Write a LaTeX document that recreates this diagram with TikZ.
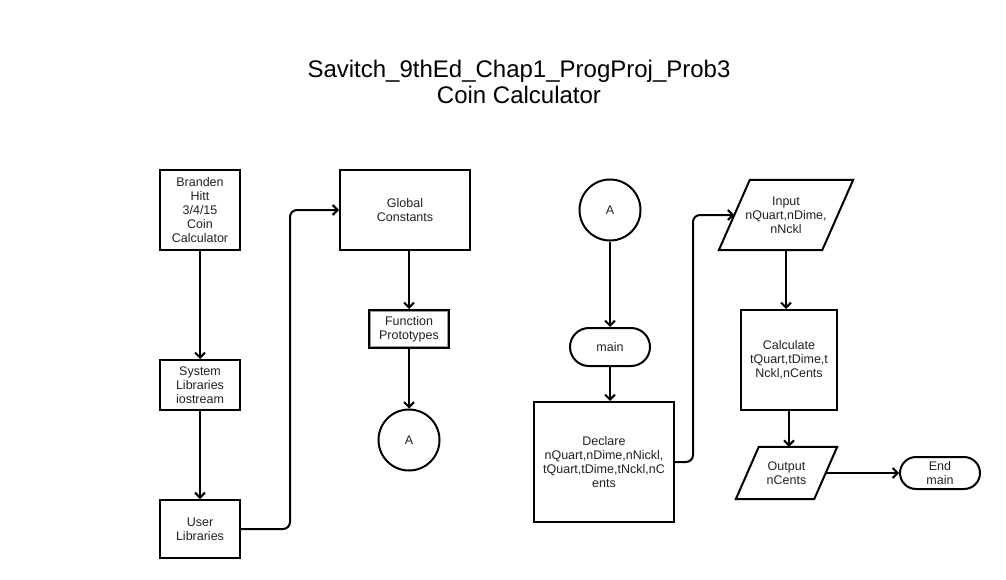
\documentclass[tikz,border=0pt]{standalone}
\usepackage{fontspec}
\setmainfont{Liberation Sans}
\usetikzlibrary{arrows.meta,calc}
\definecolor{txt}{HTML}{222222}
\begin{document}
\begin{tikzpicture}[x=1pt,y=-1pt,
  every node/.style={font=\fontsize{12.5}{14}\selectfont, align=center, inner sep=0pt, text=txt},
  box/.style={draw, line width=2pt, rectangle},
  term/.style={draw, line width=2pt, rectangle},
  conn/.style={draw, line width=2pt, circle},
  pbox/.style={rectangle},
  shapeline/.style={line width=2pt, line join=miter},
  link/.style={line width=2pt, -{Straight Barb[length=5pt,width=10pt,line width=2pt]}, rounded corners=7pt}
]
\useasboundingbox (0,0) rectangle (1006,580);
\fill[white] (0,0) rectangle (1006,580);

\node[font=\fontsize{24}{26}\selectfont, text=black] (title) at (519,82) {Savitch\_9thEd\_Chap1\_ProgProj\_Prob3\\Coin Calculator};

% left column
\node[box, minimum width=80pt, minimum height=80pt] (brand) at (200,210) {Branden\\Hitt\\3/4/15\\Coin\\Calculator};
\node[box, minimum width=80pt, minimum height=50pt] (sys) at (200,385) {System\\Libraries\\iostream};
\node[box, minimum width=80pt, minimum height=58pt] (user) at (200,529) {User\\Libraries};
\node[box, minimum width=130pt, minimum height=80pt] (glob) at (405,210) {Global\\Constants};
\node[box, minimum width=80pt, minimum height=38pt] (func) at (409,329) {Function\\Prototypes};
\draw[line width=1.2pt, black!40] ($(func.north west)+(2.2,2.2)$) rectangle ($(func.south east)+(-2.2,-2.2)$);
\node[conn, minimum size=61pt] (a1) at (409,440) {A};

\draw[link] (brand.south) -- (sys.north);
\draw[link] (sys.south) -- (user.north);
\draw[link] (user.east) -- (290,529) -- (290,210) -- (glob.west);
\draw[link] (func.north |- glob.south) -- (func.north);
\draw[link] (func.south) -- (a1.north);

% right column
\node[conn, minimum size=61pt] (a2) at (610,210) {A};
\node[term, minimum width=80pt, minimum height=38pt, rounded corners=19pt] (main) at (610,347) {main};
\node[box, minimum width=140pt, minimum height=120pt] (decl) at (604,462) {Declare\\nQuart,nDime,nNickl,\\tQuart,tDime,tNckl,nC\\ents};
\node[pbox, minimum width=134pt, minimum height=70pt] (inp) at (786,215) {Input\\nQuart,nDime,\\nNckl};
\draw[shapeline] ($(inp.north west)+(31,0)$) -- (inp.north east) -- ($(inp.south east)+(-31,0)$) -- (inp.south west) -- cycle;
\coordinate (inpin) at ($(inp.west)+(15.5,0)$);
\node[box, minimum width=96pt, minimum height=100pt] (calc) at (789,360) {Calculate\\tQuart,tDime,t\\Nckl,nCents};
\node[pbox, minimum width=101pt, minimum height=52pt] (outp) at (786.5,473) {Output\\nCents};
\draw[shapeline] ($(outp.north west)+(23,0)$) -- (outp.north east) -- ($(outp.south east)+(-23,0)$) -- (outp.south west) -- cycle;
\coordinate (outpr) at ($(outp.east)+(-11.5,0)$);
\node[term, minimum width=80pt, minimum height=32pt, rounded corners=16pt] (endm) at (940,473) {End\\main};

\draw[link] (a2.south) -- (main.north);
\draw[link] (main.south) -- (main.south |- decl.north);
\draw[link] (decl.east) -- (693,462) -- (693,215) -- (inpin);
\draw[link] (inp.south) -- (inp.south |- calc.north);
\draw[link] (calc.south) -- (calc.south |- outp.north);
\draw[link] (outpr) -- (endm.west);
\end{tikzpicture}
\end{document}
